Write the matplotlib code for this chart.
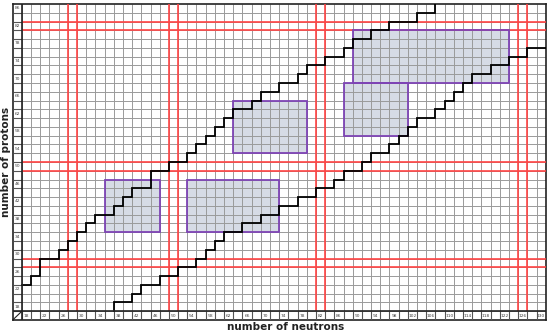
import matplotlib

matplotlib.use("Agg")
import matplotlib.pyplot as plt
from matplotlib.patches import Rectangle

# staircase outlines, on cell boundaries (cells are centred on even N / Z)
upper_edges_n = [17, 19, 21, 25, 27, 29, 31, 33, 37, 39, 41, 45, 49, 53, 55, 57,
                 59, 61, 63, 67, 69, 73, 77, 79, 83, 87, 89, 93, 97, 103, 107]
upper_levels_z = [23, 25, 29, 31, 33, 35, 37, 39, 41, 43, 45, 49, 51, 53, 55,
                  57, 59, 61, 63, 65, 67, 69, 71, 73, 75, 77, 79, 81, 83, 85]
upper_end_z = 87

lower_edges_n = [37, 41, 43, 47, 51, 55, 57, 59, 61, 65, 69, 73, 77, 81, 85, 87,
                 91, 93, 97, 99, 101, 103, 107, 109, 111, 113, 115, 119, 123, 127, 131]
lower_levels_z = [19, 21, 23, 25, 27, 29, 31, 33, 35, 37, 39, 41, 43, 45, 47,
                  49, 51, 53, 55, 57, 59, 61, 63, 65, 67, 69, 71, 73, 75, 77]
lower_start_z = 17

# shaded regions
box_n0 = [35, 53, 63, 87, 89]
box_n1 = [47, 73, 79, 101, 123]
box_z0 = [35, 35, 53, 57, 69]
box_z1 = [47, 47, 65, 69, 81]

magic_n = [28, 50, 82, 126]
magic_z = [28, 50, 82]

n_labels = list(range(18, 131, 4))
z_labels = list(range(18, 87, 4))

N_MIN, N_MAX = 15, 131
Z_MIN, Z_MAX = 15, 87


def stair_xy(edges, levels):
    xs, ys = [], []
    for i, lv in enumerate(levels):
        xs += [edges[i], edges[i + 1]]
        ys += [lv, lv]
    return xs, ys


fig = plt.figure(figsize=(5.5, 3.34), dpi=100)
ax = fig.add_axes([12.7 / 550, 14 / 334, 533 / 550, 316 / 334])
ax.set_xlim(N_MIN, N_MAX)
ax.set_ylim(Z_MIN, Z_MAX)
ax.set_xticks([])
ax.set_yticks([])
for sp in ax.spines.values():
    sp.set_linewidth(1.2)
    sp.set_color("#222222")

# grid
for n in range(17, N_MAX, 2):
    ax.vlines(n, Z_MIN, Z_MAX, color="#9a9a9a", lw=0.7, zorder=2)
for z in range(17, Z_MAX, 2):
    ax.hlines(z, N_MIN, N_MAX, color="#9a9a9a", lw=0.7, zorder=2)
# label column / row separators
for z in range(17, Z_MAX, 2):
    ax.hlines(z, N_MIN, 17, color="#555555", lw=0.8, zorder=3)
for n in range(17, N_MAX, 2):
    ax.vlines(n, Z_MIN, 17, color="#555555", lw=0.8, zorder=3)
ax.vlines(17, Z_MIN, Z_MAX, color="#222222", lw=1.2, zorder=6)
ax.hlines(17, N_MIN, N_MAX, color="#222222", lw=1.2, zorder=6)
ax.plot([N_MIN, 17], [Z_MIN, 17], color="#222222", lw=0.8, zorder=6)

# shaded boxes
for n0, n1, z0, z1 in zip(box_n0, box_n1, box_z0, box_z1):
    ax.add_patch(Rectangle((n0, z0), n1 - n0, z1 - z0, facecolor="#d6dbe5",
                           edgecolor="none", zorder=1))
    ax.add_patch(Rectangle((n0, z0), n1 - n0, z1 - z0, facecolor="none",
                           edgecolor="#7e44b5", lw=1.3, zorder=4))

# magic numbers
for m in magic_n:
    ax.vlines([m - 1, m + 1], 17, Z_MAX, color="#ff4444", lw=1.2, zorder=3)
for m in magic_z:
    ax.hlines([m - 1, m + 1], 17, N_MAX, color="#ff4444", lw=1.2, zorder=3)

# staircases
xs, ys = stair_xy(upper_edges_n, upper_levels_z)
xs.append(upper_edges_n[-1])
ys.append(upper_end_z)
ax.plot(xs, ys, color="black", lw=1.3, zorder=5, solid_joinstyle="miter")

xs, ys = stair_xy(lower_edges_n, lower_levels_z)
xs.insert(0, lower_edges_n[0])
ys.insert(0, lower_start_z)
ax.plot(xs, ys, color="black", lw=1.3, zorder=5, solid_joinstyle="miter")

# cell labels
for z in z_labels:
    ax.text(16, z, str(z), ha="center", va="center", fontsize=3.2, color="#444444", zorder=7)
for n in n_labels:
    ax.text(n, 16, str(n), ha="center", va="center", fontsize=3.2, color="#444444", zorder=7)

fig.text(286 / 550, 1 - 327 / 334, "number of neutrons", ha="center", va="center",
         fontsize=7.5, fontweight="bold", color="#222222")
fig.text(6 / 550, 1 - 162 / 334, "number of protons", ha="center", va="center",
         rotation=90, fontsize=7.5, fontweight="bold", color="#222222")

fig.savefig("out.png", dpi=100)
